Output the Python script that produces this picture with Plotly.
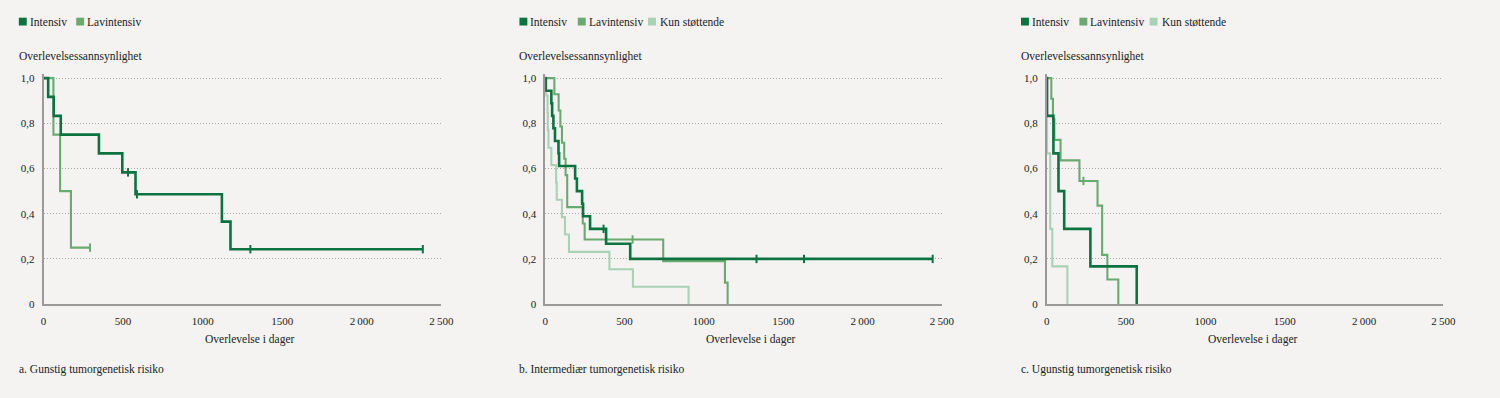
import plotly.graph_objects as go

# ---------------- data ----------------
series_names = ["Intensiv", "Lavintensiv", "Kun støttende"]
series_colors = ["#0b7340", "#6aaa70", "#a9d1b5"]
series_widths = [2.6, 2.1, 2.1]

# Panel a: Gunstig
a_int_t = [0, 29, 64, 108, 348, 495, 578, 1121, 1175, 2384]
a_int_s = [1, 0.917, 0.833, 0.75, 0.667, 0.583, 0.486, 0.365, 0.243, 0.243]
a_int_ct = [531, 587, 1300, 2384]
a_int_cs = [0.583, 0.486, 0.243, 0.243]
a_lav_t = [0, 62, 104, 172, 298]
a_lav_s = [1, 0.75, 0.5, 0.25, 0.25]
a_lav_ct = [292]
a_lav_cs = [0.25]

# Panel b: Intermediær
b_int_t = [0, 4, 39, 44, 52, 62, 84, 88, 189, 200, 233, 239, 283, 384, 536, 2442]
b_int_s = [1, 0.944, 0.889, 0.833, 0.778, 0.722, 0.667, 0.611, 0.556, 0.5, 0.444, 0.389, 0.333, 0.267, 0.2, 0.2]
b_int_ct = [368, 1332, 1631, 2442]
b_int_cs = [0.333, 0.2, 0.2, 0.2]
b_lav_t = [0, 58, 85, 96, 106, 120, 129, 139, 237, 249, 744, 1133, 1150]
b_lav_s = [1, 0.929, 0.857, 0.786, 0.714, 0.643, 0.571, 0.429, 0.357, 0.286, 0.19, 0.095, 0]
b_lav_ct = [551]
b_lav_cs = [0.286]
b_kun_t = [0, 6, 15, 17, 21, 39, 69, 73, 106, 125, 150, 405, 553, 904]
b_kun_s = [1, 0.923, 0.846, 0.769, 0.692, 0.615, 0.538, 0.462, 0.385, 0.308, 0.231, 0.154, 0.077, 0]

# Panel c: Ugunstig
c_int_t = [0, 2, 42, 74, 110, 275, 567]
c_int_s = [1, 0.833, 0.667, 0.5, 0.333, 0.167, 0]
c_lav_t = [0, 29, 39, 48, 87, 206, 320, 349, 382, 451]
c_lav_s = [1, 0.909, 0.818, 0.727, 0.636, 0.545, 0.436, 0.218, 0.109, 0]
c_lav_ct = [231]
c_lav_cs = [0.545]
c_kun_t = [0, 1, 2, 22, 35, 130]
c_kun_s = [1, 0.833, 0.667, 0.333, 0.167, 0]

captions = ["a. Gunstig tumorgenetisk risiko",
            "b. Intermediær tumorgenetisk risiko",
            "c. Ugunstig tumorgenetisk risiko"]
y_title = "Overlevelsessannsynlighet"
x_title = "Overlevelse i dager"
x_tickvals = [0, 500, 1000, 1500, 2000, 2500]
x_ticktext = ["0", "500", "1000", "1500", "2\u2009000", "2\u2009500"]
y_tickvals = [0, 0.2, 0.4, 0.6, 0.8, 1.0]
y_ticktext = ["0", "0,2", "0,4", "0,6", "0,8", "1,0"]

panels = [
    [(1, a_lav_t, a_lav_s, a_lav_ct, a_lav_cs), (0, a_int_t, a_int_s, a_int_ct, a_int_cs)],
    [(2, b_kun_t, b_kun_s, [], []), (1, b_lav_t, b_lav_s, b_lav_ct, b_lav_cs),
     (0, b_int_t, b_int_s, b_int_ct, b_int_cs)],
    [(2, c_kun_t, c_kun_s, [], []), (1, c_lav_t, c_lav_s, c_lav_ct, c_lav_cs),
     (0, c_int_t, c_int_s, [], [])],
]
legend_counts = [2, 3, 3]

# ---------------- layout geometry ----------------
W, H = 1500, 398
FONT = "Liberation Serif"
BG = "#f4f3f1"
TXT = "#222222"
FS = 11.5
x_px = [(41, 443), (548, 949), (1055, 1456)]
left_px = [16, 522, 1029]
y0_px, y1_px = 308.3, 77.7
ymax = 1.02
ytop_px = y0_px - (y0_px - y1_px) * ymax

def px(x):
    return x / W

def py(y):
    return (H - y) / H

fig = go.Figure()
layout = dict(
    width=W, height=H, margin=dict(l=0, r=0, t=0, b=0),
    paper_bgcolor=BG, plot_bgcolor=BG, showlegend=False,
    font=dict(family=FONT, size=FS, color=TXT),
)
annotations = []
shapes = []

for i, panel in enumerate(panels):
    xa = "xaxis" if i == 0 else f"xaxis{i+1}"
    ya = "yaxis" if i == 0 else f"yaxis{i+1}"
    xref = "x" if i == 0 else f"x{i+1}"
    yref = "y" if i == 0 else f"y{i+1}"
    layout[xa] = dict(
        domain=[px(x_px[i][0]), px(x_px[i][1])], range=[0, 2500], anchor=yref,
        tickvals=x_tickvals, ticktext=x_ticktext, showgrid=False, zeroline=False,
        showline=True, linecolor="#9a9a9a", linewidth=1.6, ticks="",
        ticklabelstandoff=6, tickfont=dict(size=11, color=TXT, family=FONT),
    )
    layout[ya] = dict(
        domain=[py(y0_px), py(ytop_px)], range=[0, ymax], anchor=xref,
        tickvals=y_tickvals, ticktext=y_ticktext, showgrid=True,
        gridcolor="#a8a8a8", griddash="1px,2px", gridwidth=1, zeroline=False,
        showline=True, linecolor="#9a9a9a", linewidth=1.6, ticks="",
        ticklabelstandoff=5, tickfont=dict(size=11, color=TXT, family=FONT),
    )
    for (si, t, s, ct, cs) in panel:
        fig.add_trace(go.Scatter(
            x=t, y=s, mode="lines", line=dict(shape="hv", color=series_colors[si],
                                              width=series_widths[si]),
            xaxis=xref, yaxis=yref, cliponaxis=False, name=series_names[si],
            hoverinfo="skip"))
        if ct:
            fig.add_trace(go.Scatter(
                x=ct, y=cs, mode="markers",
                marker=dict(symbol="line-ns", size=6,
                            line=dict(color=series_colors[si], width=2)),
                xaxis=xref, yaxis=yref, cliponaxis=False, hoverinfo="skip",
                name=series_names[si]))
    annotations.append(dict(text=y_title, x=px(left_px[i] - 2), y=py(56), xref="paper", yref="paper",
                            xanchor="left", yanchor="middle", showarrow=False,
                            font=dict(size=FS, color=TXT, family=FONT)))
    annotations.append(dict(text=x_title, x=px((x_px[i][0] + x_px[i][1]) / 2 + 8), y=py(344),
                            xref="paper", yref="paper", xanchor="center", yanchor="middle",
                            showarrow=False, font=dict(size=FS, color=TXT, family=FONT)))
    annotations.append(dict(text=captions[i], x=px(left_px[i] - 2), y=py(375), xref="paper", yref="paper",
                            xanchor="left", yanchor="middle", showarrow=False,
                            font=dict(size=FS, color=TXT, family=FONT)))
    offsets = [0, 59, 130] if i > 0 else [0, 58]
    text_gap = [11, 11, 12]
    for k in range(legend_counts[i]):
        sx = left_px[i] + offsets[k]
        shapes.append(dict(type="rect", xref="paper", yref="paper",
                           x0=px(sx), x1=px(sx + 8), y0=py(24), y1=py(16),
                           fillcolor=series_colors[k], line=dict(width=0)))
        annotations.append(dict(text=series_names[k], x=px(sx + text_gap[k] - 2), y=py(20),
                                xref="paper", yref="paper", xanchor="left", yanchor="middle",
                                showarrow=False, font=dict(size=FS, color=TXT, family=FONT)))

layout["annotations"] = annotations
layout["shapes"] = shapes
fig.update_layout(**layout)
fig.write_html("out.html", config={"displayModeBar": False},
               post_script="document.body.style.margin='0';document.body.style.background='%s';" % BG)
